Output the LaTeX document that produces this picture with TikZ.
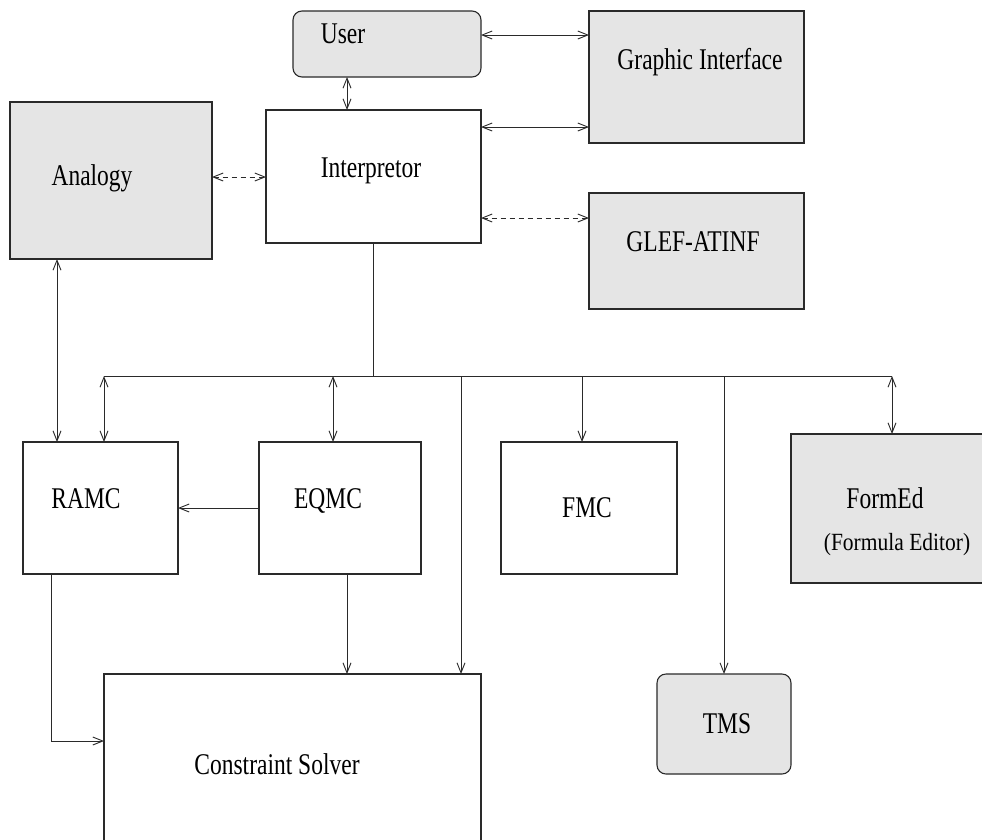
\documentclass[tikz,border=0pt]{standalone}
\usepackage{fontspec}
\setmainfont{Liberation Serif}
\usetikzlibrary{arrows.meta}
\definecolor{boxgray}{HTML}{E5E5E5}
\definecolor{linecol}{HTML}{2A2A2A}
\newcommand\lbl[1]{\scalebox{1}[1.28]{#1}}
\newcommand\lblsmall[1]{\scalebox{1}[1.15]{#1}}
\begin{document}
\begin{tikzpicture}[x=1pt,y=-1pt,
  box/.style={draw=linecol,line width=1.1pt,rectangle,anchor=north west,inner sep=0pt,outer sep=0pt},
  gbox/.style={box,fill=boxgray},
  rbox/.style={gbox,rounded corners=9pt},
  txt/.style={inner sep=0pt,anchor=base,font=\fontsize{23.5}{28}\selectfont},
  stxt/.style={inner sep=0pt,anchor=base,font=\fontsize{21.5}{26}\selectfont},
  conn/.style={draw=linecol,line width=0.9pt},
  arr/.style={conn,-{Straight Barb[length=10pt,width=8pt,line width=0.9pt]}},
  darr/.style={conn,{Straight Barb[length=10pt,width=8pt,line width=0.9pt]}-{Straight Barb[length=10pt,width=8pt,line width=0.9pt]}},
  ddarr/.style={darr,dash pattern=on 5pt off 4pt}]
\useasboundingbox (0,0) rectangle (982,839);
\clip (0,0) rectangle (982,839);
\fill[white] (0,0) rectangle (982,839);

% boxes
\node[rbox,minimum width=188pt,minimum height=66pt] (user) at (293,11) {};
\node[box,minimum width=215pt,minimum height=133pt] (ip) at (266,110) {};
\node[gbox,minimum width=202pt,minimum height=157pt] (an) at (10,102) {};
\node[gbox,minimum width=215pt,minimum height=132pt] (gi) at (589,11) {};
\node[gbox,minimum width=215pt,minimum height=116pt] (gl) at (589,193) {};
\node[box,minimum width=155pt,minimum height=132pt] (ramc) at (23,442) {};
\node[box,minimum width=162pt,minimum height=132pt] (eqmc) at (259,442) {};
\node[box,minimum width=176pt,minimum height=132pt] (fmc) at (501,442) {};
\node[gbox,minimum width=210pt,minimum height=149pt] (fe) at (791,434) {};
\node[rbox,minimum width=134pt,minimum height=100pt] (tms) at (657,674) {};
\node[box,minimum width=377pt,minimum height=190pt] (cs) at (104,674) {};

% labels
\node[txt] (tuser) at (343,43) {\lbl{User}};
\node[txt] (tip) at (371,177) {\lbl{Interpretor}};
\node[txt] (tan) at (92,185) {\lbl{Analogy}};
\node[txt] (tgi) at (700,69) {\lbl{Graphic Interface}};
\node[txt] (tgl) at (693,251) {\lbl{GLEF-ATINF}};
\node[txt] (tramc) at (86,508) {\lbl{RAMC}};
\node[txt] (teqmc) at (328,508) {\lbl{EQMC}};
\node[txt] (tfmc) at (587,517) {\lbl{FMC}};
\node[txt] (tfe) at (885,508) {\lbl{FormEd}};
\node[stxt] (tfe2) at (897,550) {\lblsmall{(Formula Editor)}};
\node[txt] (tcs) at (277,774) {\lbl{Constraint Solver}};
\node[txt] (ttms) at (727,733) {\lbl{TMS}};

% helper coordinates
\coordinate (r1) at (0,35);
\coordinate (r2) at (0,127);
\coordinate (r3) at (0,218);
\coordinate (r4) at (0,177);
\coordinate (r5) at (0,508);
\coordinate (c1) at (347,0);
\coordinate (c2) at (373,0);
\coordinate (c3) at (57,0);
\coordinate (bus) at (0,376);
\coordinate (busL) at (104,376);
\coordinate (busR) at (892,376);
\coordinate (bEQ) at (333,376);
\coordinate (bCS) at (461,376);
\coordinate (bFM) at (582,376);
\coordinate (bTM) at (724,376);
\coordinate (rcorner) at (51,741);

% connectors
\draw[darr] (user.east |- r1) -- (gi.west |- r1);
\draw[darr] (ip.east |- r2) -- (gi.west |- r2);
\draw[ddarr] (ip.east |- r3) -- (gl.west |- r3);
\draw[ddarr] (an.east |- r4) -- (ip.west |- r4);
\draw[darr] (user.south -| c1) -- (ip.north -| c1);
\draw[conn] (ip.south -| c2) -- (c2 |- bus);
\draw[conn] (busL) -- (busR);
\draw[darr] (an.south -| c3) -- (ramc.north -| c3);
\draw[darr] (busL) -- (ramc.north -| busL);
\draw[darr] (bEQ) -- (eqmc.north -| bEQ);
\draw[arr] (bCS) -- (cs.north -| bCS);
\draw[arr] (bFM) -- (fmc.north -| bFM);
\draw[arr] (bTM) -- (tms.north -| bTM);
\draw[darr] (busR) -- (fe.north -| busR);
\draw[arr] (eqmc.west |- r5) -- (ramc.east |- r5);
\draw[arr] (ramc.south -| rcorner) -- (rcorner) -- (cs.west |- rcorner);
\draw[arr] (eqmc.south -| c1) -- (cs.north -| c1);
\end{tikzpicture}
\end{document}
